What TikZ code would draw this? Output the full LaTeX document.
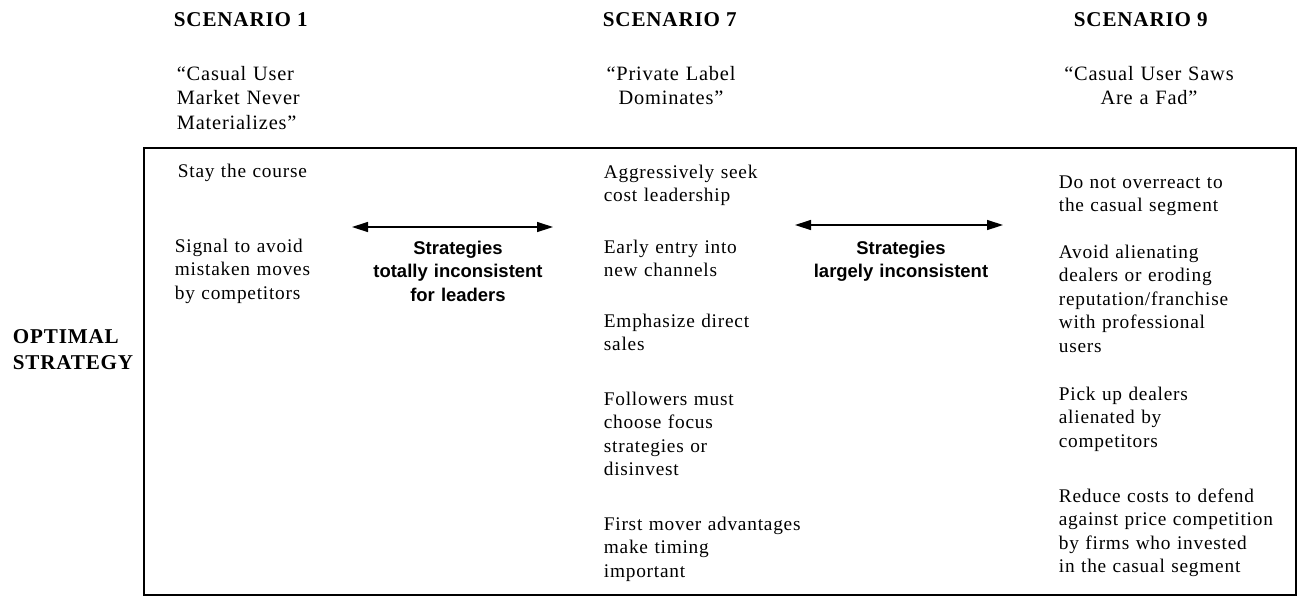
\documentclass[tikz,border=0pt]{standalone}
\usepackage{fontspec}
\setmainfont{Liberation Serif}[LetterSpace=4]
\newfontfamily\headfont{Liberation Serif}[LetterSpace=4]
\newfontfamily\labelfont{Liberation Sans}
\usetikzlibrary{arrows.meta,positioning}

\tikzset{
  colnote/.style={anchor=base west, inner sep=0pt, align=left, text width=6cm,
    font={\fontsize{11}{13.4}\selectfont}},
  quotenote/.style={colnote, font={\fontsize{11.6}{14.2}\selectfont}},
  headnote/.style={anchor=base west, inner sep=0pt, font={\headfont\bfseries\fontsize{12}{14.8}\selectfont}},
  gaplabel/.style={anchor=base, inner sep=0pt, align=center, text width=5cm,
    font={\labelfont\bfseries\fontsize{10.5}{13.4}\selectfont}},
  gaparrow/.style={{Triangle[length=3.2mm, width=2mm]}-{Triangle[length=3.2mm, width=2mm]}, line width=0.8pt}
}

\begin{document}
\begin{tikzpicture}[x=0.02cm, y=-0.02cm, line width=1pt]
        \useasboundingbox (0,0) rectangle (1302,603);

        % Scenario headings.
        \node[headnote] (sc1) at (173,26) {SCENARIO 1};
        \node[headnote] (sc7) at (602,26) {SCENARIO 7};
        \node[headnote] (sc9) at (1073,26) {SCENARIO 9};

        % Scenario titles.
        \node[quotenote] (q1) at (176,80) {``Casual User\\Market Never\\Materializes''};
        \node[quotenote, anchor=base, align=center] (q7) at (671,80) {``Private Label\\Dominates''};
        \node[quotenote, anchor=base, align=center] (q9) at (1149,80) {``Casual User Saws\\Are a Fad''};

        % Row label.
        \node[headnote, align=left, font={\headfont\bfseries\fontsize{12}{14.6}\selectfont}] (opt) at (12,369) {OPTIMAL\\STRATEGY};

        % Frame.
        \draw (144,148) rectangle (1296,595);

        % Scenario 1 strategy.
        \node[colnote] (s1a) at (177,177) {Stay the course};
        \node[colnote] (s1b) at (174,252) {Signal to avoid\\mistaken moves\\by competitors};

        % Scenario 7 strategy.
        \node[colnote] (s7a) at (603,178) {Aggressively seek\\cost leadership};
        \node[colnote] (s7b) at (603,253) {Early entry into\\new channels};
        \node[colnote] (s7c) at (603,327) {Emphasize direct\\sales};
        \node[colnote] (s7d) at (603,405) {Followers must\\choose focus\\strategies or\\disinvest};
        \node[colnote] (s7e) at (603,530) {First mover advantages\\make timing\\important};

        % Scenario 9 strategy.
        \node[colnote] (s9a) at (1058,188) {Do not overreact to\\the casual segment};
        \node[colnote] (s9b) at (1058,258) {Avoid alienating\\dealers or eroding\\reputation/franchise\\with professional\\users};
        \node[colnote] (s9c) at (1058,400) {Pick up dealers\\alienated by\\competitors};
        \node[colnote] (s9d) at (1058,502) {Reduce costs to defend\\against price competition\\by firms who invested\\in the casual segment};

        % Consistency arrows.
        \coordinate (g1l) at (352,227);
        \coordinate (g1r) at (553,227);
        \draw[gaparrow] (g1l) -- (g1r);
        \node[gaplabel] (g1) at (458,254) {Strategies\\totally inconsistent\\for leaders};

        \coordinate (g2l) at (795,225);
        \coordinate (g2r) at (1003,225);
        \draw[gaparrow] (g2l) -- (g2r);
        \node[gaplabel] (g2) at (901,254) {Strategies\\largely inconsistent};
    \end{tikzpicture}
\end{document}
